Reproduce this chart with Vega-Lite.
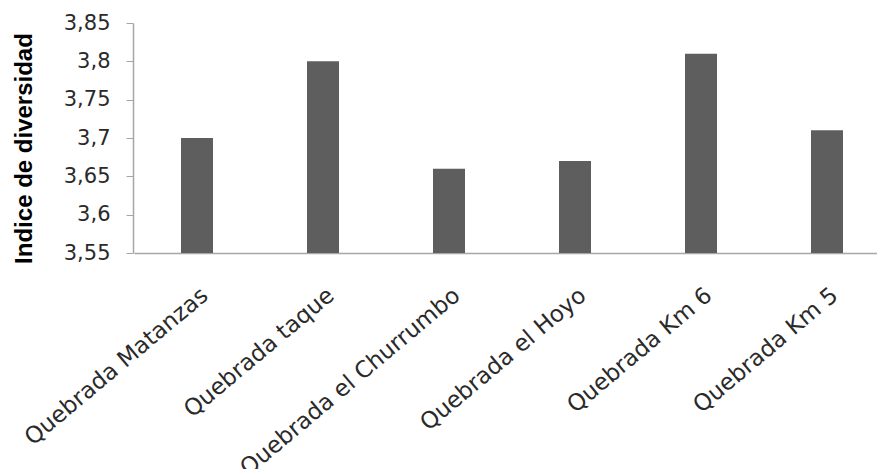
{
  "$schema": "https://vega.github.io/schema/vega-lite/v6.json",
  "autosize": {"type": "none"},
  "padding": {"left": 133, "top": 23, "right": 0, "bottom": 216},
  "width": 744,
  "height": 230,
  "background": "white",
  "data": {"values": [
    {"sitio": "Quebrada Matanzas", "indice": 3.70},
    {"sitio": "Quebrada taque", "indice": 3.80},
    {"sitio": "Quebrada el Churrumbo", "indice": 3.66},
    {"sitio": "Quebrada el Hoyo", "indice": 3.67},
    {"sitio": "Quebrada Km 6", "indice": 3.81},
    {"sitio": "Quebrada Km 5", "indice": 3.71}
  ]},
  "mark": {"type": "bar", "width": 32, "color": "#5e5e5e"},
  "encoding": {
    "x": {
      "field": "sitio", "type": "nominal", "sort": null,
      "scale": {"range": [1, 757], "paddingInner": 0, "paddingOuter": 0},
      "axis": {
        "title": null, "ticks": false, "tickSize": 0, "domainColor": "#a6a6a6", "domainWidth": 1.5,
        "labelAngle": -40, "labelAlign": "right", "labelBaseline": "middle",
        "labelPadding": 39, "labelOffset": 8,
        "labelFont": "DejaVu Sans", "labelFontSize": 23, "labelColor": "#2a2a2a",
        "labelOverlap": false, "labelLimit": 400
      }
    },
    "y": {
      "field": "indice", "type": "quantitative",
      "scale": {"domain": [3.55, 3.85], "zero": false, "nice": false},
      "axis": {
        "title": "Indice de diversidad", "titleFont": "Liberation Sans", "titleFontSize": 24,
        "titleFontWeight": "bold", "titleColor": "#000000", "titleX": -97, "titleY": 125,
        "values": [3.55, 3.6, 3.65, 3.7, 3.75, 3.8, 3.85],
        "labelExpr": "replace(format(datum.value, '.2~f'), '.', ',')",
        "grid": false, "domainColor": "#a6a6a6", "domainWidth": 1.5,
        "tickColor": "#a6a6a6", "tickSize": 7, "labelPadding": 16,
        "labelFont": "DejaVu Sans", "labelFontSize": 21, "labelColor": "#2a2a2a"
      }
    },
    "y2": {"datum": 3.55}
  },
  "config": {"view": {"stroke": null}}
}
